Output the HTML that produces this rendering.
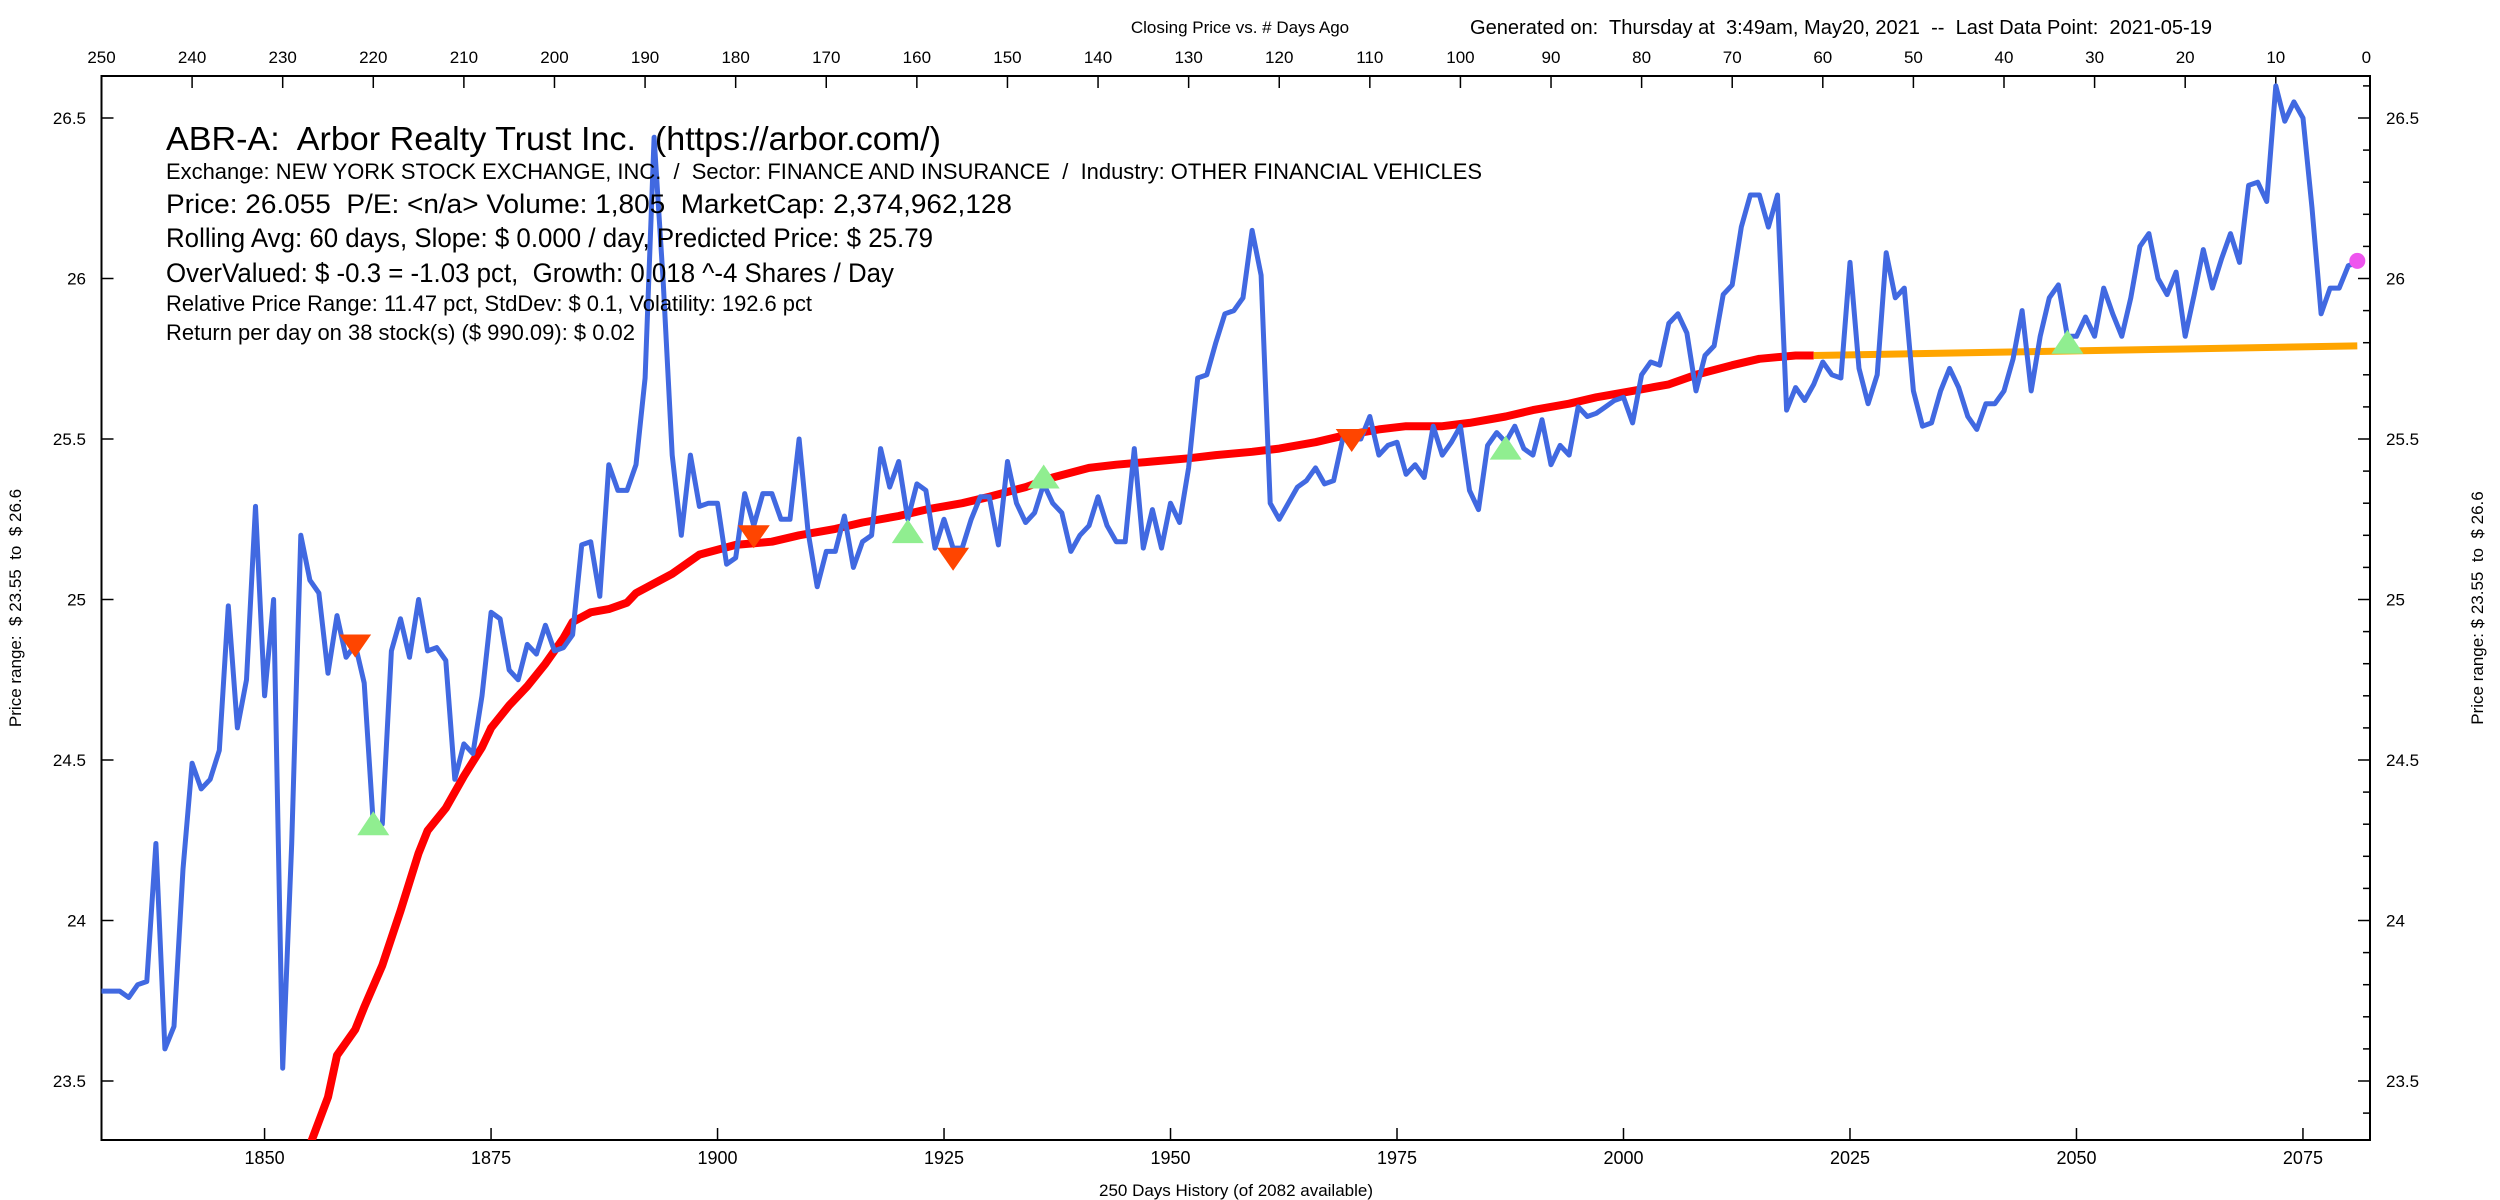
<!DOCTYPE html>
<html><head><meta charset="utf-8"><style>
html,body{margin:0;padding:0;background:#fff;}
svg{display:block;font-family:"Liberation Sans",sans-serif;}
svg text{white-space:pre;}
</style></head><body>
<svg id="chart" width="2500" height="1200" viewBox="0 0 2500 1200" xmlns="http://www.w3.org/2000/svg" xml:space="preserve">
<rect x="0" y="0" width="2500" height="1200" fill="#fff"/>
<defs><clipPath id="plotclip"><rect x="101.5" y="76" width="2268.5" height="1064"/></clipPath></defs>
<text x="1240" y="33" font-size="17" text-anchor="middle">Closing Price vs. # Days Ago</text>
<text x="1470" y="34" font-size="20" textLength="742" lengthAdjust="spacingAndGlyphs">Generated on:  Thursday at  3:49am, May20, 2021  --  Last Data Point:  2021-05-19</text>
<g id="axes"></g>
<g id="series" clip-path="url(#plotclip)"></g>
<g>
<text x="166" y="150" font-size="33" textLength="775" lengthAdjust="spacingAndGlyphs">ABR-A:  Arbor Realty Trust Inc.  (https://arbor.com/)</text>
<text x="166" y="179" font-size="22" textLength="1316" lengthAdjust="spacingAndGlyphs">Exchange: NEW YORK STOCK EXCHANGE, INC.  /  Sector: FINANCE AND INSURANCE  /  Industry: OTHER FINANCIAL VEHICLES</text>
<text x="166" y="213" font-size="27" textLength="846" lengthAdjust="spacingAndGlyphs">Price: 26.055  P/E: &lt;n/a&gt; Volume: 1,805  MarketCap: 2,374,962,128</text>
<text x="166" y="247" font-size="27" textLength="767" lengthAdjust="spacingAndGlyphs">Rolling Avg: 60 days, Slope: $ 0.000 / day, Predicted Price: $ 25.79</text>
<text x="166" y="282" font-size="27" textLength="728" lengthAdjust="spacingAndGlyphs">OverValued: $ -0.3 = -1.03 pct,  Growth: 0.018 ^-4 Shares / Day</text>
<text x="166" y="311" font-size="22" textLength="646" lengthAdjust="spacingAndGlyphs">Relative Price Range: 11.47 pct, StdDev: $ 0.1, Volatility: 192.6 pct</text>
<text x="166" y="340" font-size="22" textLength="469" lengthAdjust="spacingAndGlyphs">Return per day on 38 stock(s) ($ 990.09): $ 0.02</text>
</g>
<text x="1236" y="1196" font-size="17" text-anchor="middle">250 Days History (of 2082 available)</text>
<text x="0" y="0" font-size="17" text-anchor="middle" transform="translate(21,608) rotate(-90)">Price range:  $ 23.55  to  $ 26.6</text>
<text x="0" y="0" font-size="17" text-anchor="middle" transform="translate(2483,608) rotate(-90)">Price range: $ 23.55  to  $ 26.6</text>
</svg>
<script>
const priceStartDay = 1832;
const prices = [
23.78,23.78,23.78,23.76,23.80,23.81,24.24,23.60,23.67,24.16,
24.49,24.41,24.44,24.53,24.98,24.60,24.75,25.29,24.70,25.00,
23.54,24.24,25.20,25.06,25.02,24.77,24.95,24.82,24.86,24.74,
24.30,24.30,24.84,24.94,24.82,25.00,24.84,24.85,24.81,24.44,
24.55,24.52,24.70,24.96,24.94,24.78,24.75,24.86,24.83,24.92,
24.84,24.85,24.89,25.17,25.18,25.01,25.42,25.34,25.34,25.42,
25.69,26.44,25.99,25.45,
25.20,25.45,25.29,25.30,25.30,25.11,25.13,25.33,25.23,25.33,
25.33,25.25,25.25,25.50,25.21,25.04,25.15,25.15,25.26,25.10,
25.18,25.20,25.47,25.35,25.43,25.25,25.36,25.34,25.16,25.25,
25.16,25.16,25.25,25.32,25.32,25.17,25.43,25.30,25.24,25.27,
25.36,25.30,25.27,25.15,25.20,25.23,25.32,25.23,25.18,25.18,
25.47,25.16,25.28,25.16,25.30,25.24,25.41,25.69,25.70,25.80,
25.89,25.90,25.94,26.15,26.01,25.30,
25.25,25.30,25.35,25.37,25.41,25.36,25.37,25.50,25.50,25.50,
25.57,25.45,25.48,25.49,25.39,25.42,25.38,25.54,25.45,25.49,
25.54,25.34,25.28,25.48,25.52,25.49,25.54,25.47,25.45,25.56,
25.42,25.48,25.45,25.60,25.57,25.58,25.60,25.62,25.63,25.55,
25.70,25.74,25.73,25.86,25.89,25.83,25.65,25.76,25.79,25.95,
25.98,26.16,26.26,26.26,26.16,26.26,25.59,25.66,25.62,25.67,
25.74,25.70,25.69,
26.05,25.72,25.61,25.70,26.08,25.94,25.97,25.65,25.54,25.55,
25.65,25.72,25.66,25.57,25.53,25.61,25.61,25.65,25.75,25.90,
25.65,25.82,25.94,25.98,25.82,25.82,25.88,25.82,25.97,25.89,
25.82,25.94,26.10,26.14,26.00,25.95,26.02,25.82,25.95,26.09,
25.97,26.06,26.14,26.05,26.29,26.30,26.24,26.60,26.49,26.55,
26.50,26.22,25.89,25.97,25.97,26.04,26.05
];
const rollDays = [1855,1857,1858,1860,1861,1863,1865,1867,1868,1870,1872,1874,1875,1877,1879,1881,1883,1884,1886,1888,1890,1891,1895,1898,1902,1906,1909,1913,1916,1920,1923,1927,1930,1934,1937,1941,1944,1948,1952,1955,1959,1962,1966,1969,1973,1976,1980,1983,1987,1990,1994,1997,2001,2005,2008,2012,2015,2019,2021];
const rollVals = [23.30,23.45,23.58,23.66,23.73,23.86,24.03,24.21,24.28,24.35,24.45,24.54,24.60,24.67,24.73,24.80,24.88,24.93,24.96,24.97,24.99,25.02,25.08,25.14,25.17,25.18,25.20,25.22,25.24,25.26,25.28,25.30,25.32,25.35,25.38,25.41,25.42,25.43,25.44,25.45,25.46,25.47,25.49,25.51,25.53,25.54,25.54,25.55,25.57,25.59,25.61,25.63,25.65,25.67,25.70,25.73,25.75,25.76,25.76];
const predDays = [2021,2041,2061,2081];
const predVals = [25.76,25.77,25.78,25.79];
const sellDays = [1860,1904,1926,1970];
const sellVals = [24.86,25.20,25.13,25.50];
const buyDays = [1862,1921,1936,1987,2049];
const buyVals = [24.30,25.21,25.38,25.47,25.80];
const lastDay = [2081];
const lastVal = [26.055];
const bottomTicks = [1850,1875,1900,1925,1950,1975,2000,2025,2050,2075];
const topTicks = [250,240,230,220,210,200,190,180,170,160,150,140,130,120,110,100,90,80,70,60,50,40,30,20,10,0];
const yTicks = [23.5,24,24.5,25,25.5,26,26.5];
const yTickLabels = ["23.5","24","24.5","25","25.5","26","26.5"];

const NS="http://www.w3.org/2000/svg";
const X0=101.5,X1=2370,Y0=76,Y1=1140;
const D0=1832,D1=2082.4;
function xs(d){return X0+(d-D0)/(D1-D0)*(X1-X0);}
function ys(p){return 118+(26.5-p)*321;}
function mk(tag,attrs,parent){const e=document.createElementNS(NS,tag);for(const k in attrs)e.setAttribute(k,attrs[k]);parent.appendChild(e);return e;}
const axes=document.getElementById('axes');
const series=document.getElementById('series');

const frame=mk('rect',{x:X0,y:Y0,width:X1-X0,height:Y1-Y0,fill:'none',stroke:'#000','stroke-width':2},axes);



bottomTicks.forEach(t=>{
  const x=xs(t);
  const l=mk('line',{x1:x,y1:Y1,x2:x,y2:Y1-12,stroke:'#000','stroke-width':1.5},axes);
  
  
  const tx=mk('text',{x:x,y:1164,'font-size':18,'text-anchor':'middle'},axes);
  tx.textContent=t;
  
  
});
topTicks.forEach(t=>{
  const x=xs(2082-t);
  if(t!==250 && t!==0){
    const l=mk('line',{x1:x,y1:Y0,x2:x,y2:Y0+12,stroke:'#000','stroke-width':1.5},axes);
    
    
  }
  const tx=mk('text',{x:x,y:63,'font-size':17,'text-anchor':'middle'},axes);
  tx.textContent=t;
  
  
});
yTicks.forEach((t,i)=>{
  const y=ys(t);
  const l=mk('line',{x1:X0,y1:y,x2:X0+12,y2:y,stroke:'#000','stroke-width':1.5},axes);
  
  
  const r=mk('line',{x1:X1,y1:y,x2:X1-12,y2:y,stroke:'#000','stroke-width':1.5},axes);
  
  
  const tl=mk('text',{x:86,y:y+6,'font-size':17,'text-anchor':'end'},axes);
  tl.textContent=yTickLabels[i];
  
  
  const tr=mk('text',{x:2386,y:y+6,'font-size':17},axes);
  tr.textContent=yTickLabels[i];
  
  
});
for(let k=234;k<=266;k++){
  if(k%5===0)continue;
  const y=ys(k/10);
  const m=mk('line',{x1:X1,y1:y,x2:X1-7,y2:y,stroke:'#000','stroke-width':1.5},axes);
  
  
}

function pathFrom(ds,vs){return ds.map((d,i)=>(i?'L':'M')+xs(d).toFixed(1)+','+ys(vs[i]).toFixed(1)).join(' ');}
const priceDays=prices.map((p,i)=>priceStartDay+i);

const roll=mk('path',{d:pathFrom(rollDays,rollVals),fill:'none',stroke:'#ff0000','stroke-width':8,'stroke-linejoin':'round'},series);


const pred=mk('path',{d:pathFrom(predDays,predVals),fill:'none',stroke:'#ffa500','stroke-width':7},series);


const line=mk('path',{d:pathFrom(priceDays,prices),fill:'none',stroke:'#4169e1','stroke-width':5,'stroke-linejoin':'round'},series);



sellDays.forEach((d,i)=>{
  const x=xs(d),y=ys(sellVals[i]);
  const t=mk('polygon',{points:`${x-16},${y-10} ${x+16},${y-10} ${x},${y+13}`,fill:'#ff4500'},series);
  
  
});
buyDays.forEach((d,i)=>{
  const x=xs(d),y=ys(buyVals[i]);
  const t=mk('polygon',{points:`${x-16},${y+11} ${x+16},${y+11} ${x},${y-13}`,fill:'#90ee90'},series);
  
  
});
const dot=mk('circle',{cx:xs(lastDay[0]),cy:ys(lastVal[0]),r:8,fill:'#ee55ee'},series);


</script>
</body></html>
